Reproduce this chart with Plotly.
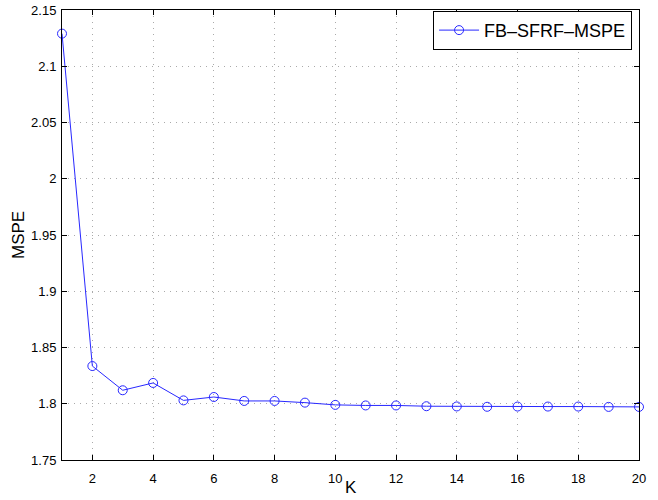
import plotly.graph_objects as go

K = list(range(1, 21))
mspe = [2.129, 1.8335, 1.812, 1.8185, 1.803, 1.806, 1.8025, 1.8025, 1.801, 1.799,
        1.7985, 1.7985, 1.7978, 1.7976, 1.7973, 1.7975, 1.7975, 1.7975, 1.7972, 1.7972]
series_name = "FB\u2013SFRF\u2013MSPE"
x_title = "K"
y_title = "MSPE"
x_ticks = list(range(2, 21, 2))
y_ticks = [1.75, 1.8, 1.85, 1.9, 1.95, 2.0, 2.05, 2.1, 2.15]
y_labels = ["1.75", "1.8", "1.85", "1.9", "1.95", "2", "2.05", "2.1", "2.15"]

fig = go.Figure()
fig.add_trace(go.Scatter(
    x=K, y=mspe, mode="lines+markers", name=series_name,
    line=dict(color="rgb(40,40,255)", width=1),
    marker=dict(symbol="circle-open", size=9, color="rgb(40,40,255)", line=dict(width=1)),
    cliponaxis=False,
))

axis_common = dict(
    showline=True, linecolor="black", linewidth=1, mirror="ticks",
    ticks="inside", ticklen=5, tickcolor="black",
    showgrid=True, gridcolor="rgb(170,170,170)", griddash="1px,5px", gridwidth=1,
    zeroline=False, automargin=False,
    tickfont=dict(family="Liberation Sans, Arial, sans-serif", size=13, color="black"),
)

fig.update_xaxes(range=[1, 20], tickvals=x_ticks, ticklabelstandoff=6, **axis_common)
fig.update_yaxes(range=[1.75, 2.15], tickvals=y_ticks, ticktext=y_labels, ticklabelstandoff=2,
                 **axis_common)

title_font = dict(family="Liberation Sans, Arial", size=17, color="black")
fig.add_annotation(
    text=x_title, xref="paper", yref="paper", x=0.5, y=-0.062,
    xanchor="center", yanchor="middle", showarrow=False, font=title_font,
)
fig.add_annotation(
    text=y_title, xref="paper", yref="paper", x=-0.0763, y=0.5,
    xanchor="center", yanchor="middle", textangle=-90, showarrow=False, font=title_font,
)

fig.update_layout(
    width=658, height=500,
    margin=dict(l=62, r=19, t=10, b=40),
    plot_bgcolor="white", paper_bgcolor="white",
    showlegend=True,
    legend=dict(
        x=0.988, y=0.998, xanchor="right", yanchor="top",
        bgcolor="white", bordercolor="black", borderwidth=1,
        font=dict(family="Liberation Sans, Arial", size=18, color="black"),
        itemwidth=40,
    ),
)

fig.write_html("out.html")
